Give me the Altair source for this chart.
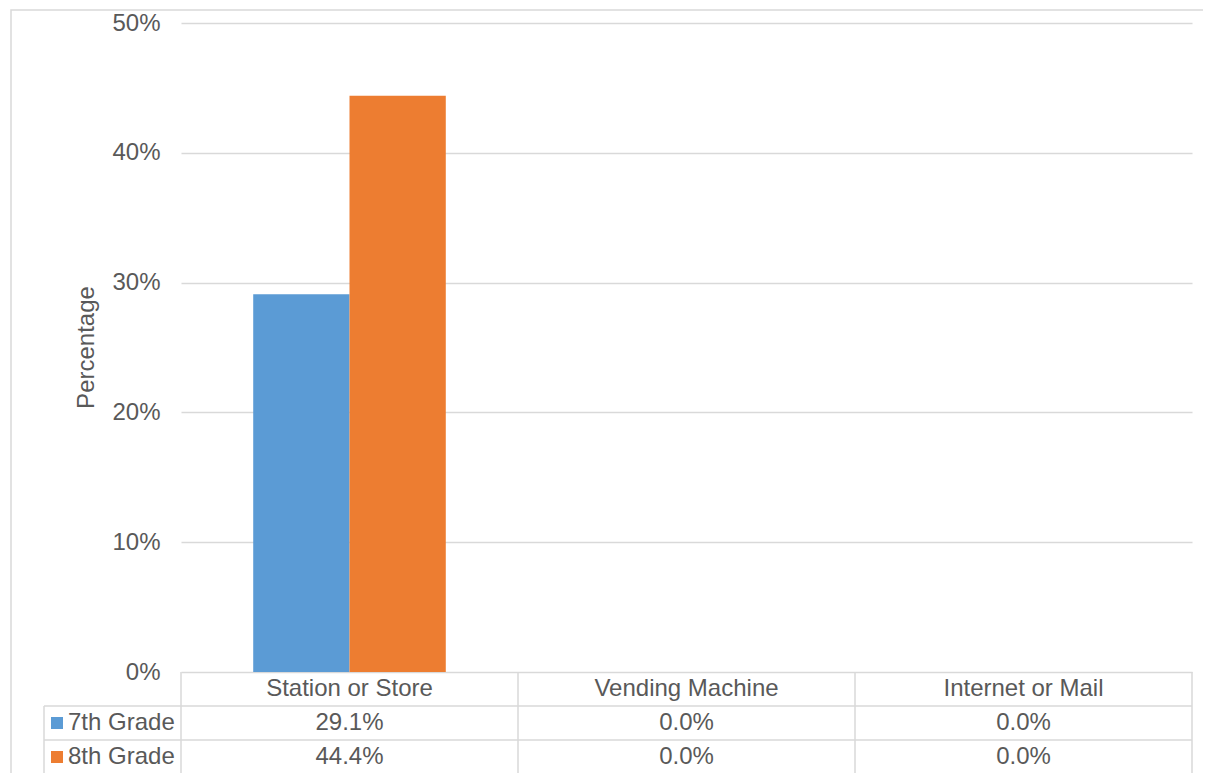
import altair as alt
import pandas as pd

# ---- data ----
categories = ["Station or Store", "Vending Machine", "Internet or Mail"]
grades = ["7th Grade", "8th Grade"]
values_7th = [0.291, 0.0, 0.0]
values_8th = [0.444, 0.0, 0.0]
y_ticks = [0, 0.1, 0.2, 0.3, 0.4, 0.5]
colors = ["#5B9BD5", "#ED7D31"]

rows = []
for g, vals in zip(grades, [values_7th, values_8th]):
    for c, v in zip(categories, vals):
        rows.append({"category": c, "grade": g, "value": v, "label": f"{v * 100:.1f}%"})
df = pd.DataFrame(rows)
cat_df = pd.DataFrame({"category": categories, "row": ["header"] * len(categories)})
grade_df = pd.DataFrame({"grade": grades})
last_cat_df = pd.DataFrame({"category": [categories[-1]]})
one_df = pd.DataFrame({"a": [0]})

# ---- style ----
W, H = 1011, 649
TABLE_H = 102
FONT = "Liberation Sans"
FS = 24
TXT = "#595959"
LINE = "#D9D9D9"
LW = 1.5

x_scale = alt.Scale(domain=categories, paddingInner=0, paddingOuter=0)
row_scale = alt.Scale(domain=["header"] + grades, range=[H, H + TABLE_H],
                      paddingInner=0, paddingOuter=0)
color_scale = alt.Scale(domain=grades, range=colors)

X = alt.X("category:N", scale=x_scale, axis=None)

border = alt.Chart(one_df).mark_rect(
    fillOpacity=0, stroke=LINE, strokeWidth=LW
).encode(x=alt.value(-170), x2=alt.value(1040), y=alt.value(-13), y2=alt.value(800))

bars = alt.Chart(df).mark_bar().encode(
    x=X,
    xOffset=alt.XOffset("grade:N", scale=alt.Scale(domain=grades, paddingInner=0, paddingOuter=0.75)),
    y=alt.Y(
        "value:Q",
        scale=alt.Scale(domain=[0, 0.5]),
        axis=alt.Axis(
            values=y_ticks, format=".0%", title="Percentage",
            ticks=False, domain=False, grid=True, gridColor=LINE, gridWidth=LW,
            labelFont=FONT, labelFontSize=FS, labelColor=TXT, labelPadding=21,
            titleFont=FONT, titleFontSize=FS, titleColor=TXT, titleFontWeight="normal",
            titleAngle=270, titleX=-88, titleY=324, titleAlign="center",
            titleBaseline="alphabetic",
        ),
    ),
    color=alt.Color("grade:N", scale=color_scale, legend=None),
)

header_text = alt.Chart(cat_df).mark_text(
    font=FONT, fontSize=FS, color=TXT, baseline="middle"
).encode(x=X, y=alt.Y("row:N", scale=row_scale, axis=None), text="category:N")

value_text = alt.Chart(df).mark_text(
    font=FONT, fontSize=FS, color=TXT, baseline="middle"
).encode(x=X, y=alt.Y("grade:N", scale=row_scale, axis=None), text="label:N")

legend_sq = alt.Chart(grade_df).mark_square(size=144, opacity=1).encode(
    x=alt.value(-124),
    y=alt.Y("grade:N", scale=row_scale, axis=None),
    color=alt.Color("grade:N", scale=color_scale, legend=None),
)

legend_txt = alt.Chart(grade_df).mark_text(
    font=FONT, fontSize=FS, color=TXT, align="left", baseline="middle"
).encode(x=alt.value(-113), y=alt.Y("grade:N", scale=row_scale, axis=None), text="grade:N")

h_lines = alt.Chart(grade_df).mark_rule(color=LINE, strokeWidth=LW).encode(
    x=alt.value(-137), x2=alt.value(W),
    y=alt.Y("grade:N", scale=row_scale, axis=None, bandPosition=0),
)

v_lines = alt.Chart(cat_df).mark_rule(color=LINE, strokeWidth=LW).encode(
    x=alt.X("category:N", scale=x_scale, axis=None, bandPosition=0),
    y=alt.value(H), y2=alt.value(H + 120),
)
v_right = alt.Chart(last_cat_df).mark_rule(color=LINE, strokeWidth=LW).encode(
    x=alt.X("category:N", scale=x_scale, axis=None, bandPosition=1),
    y=alt.value(H), y2=alt.value(H + 120),
)
v_left = alt.Chart(one_df).mark_rule(color=LINE, strokeWidth=LW).encode(
    x=alt.value(-137), y=alt.value(H + 34), y2=alt.value(H + 120),
)

chart = alt.layer(
    border, bars, h_lines, v_lines, v_right, v_left,
    header_text, value_text, legend_sq, legend_txt,
).resolve_scale(y="independent").properties(
    width=W, height=H,
    autosize=alt.AutoSizeParams(type="none"),
    padding={"left": 173, "top": 15, "right": 11, "bottom": 101},
    background="white",
).configure_view(stroke=None)

chart.save("out.html", embed_options={"renderer": "svg", "actions": False})
